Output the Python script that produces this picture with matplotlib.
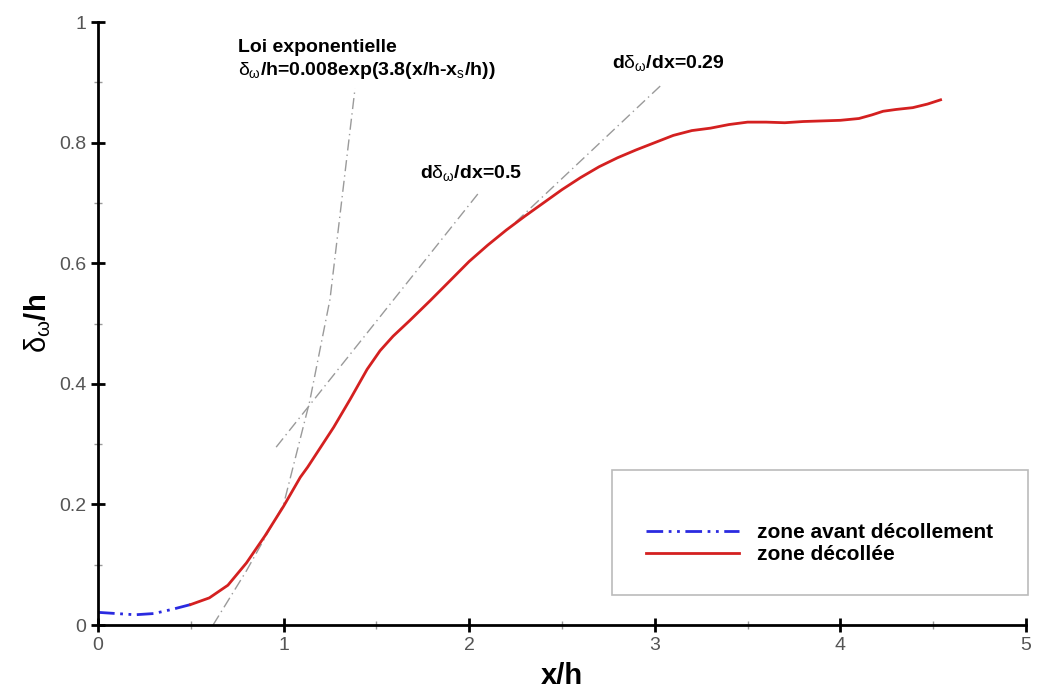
import matplotlib
matplotlib.use('Agg')
import matplotlib.pyplot as plt
from matplotlib.patches import Rectangle
from matplotlib.lines import Line2D

plt.rcParams['font.family'] = ['Liberation Sans', 'DejaVu Sans']
plt.rcParams['mathtext.fontset'] = 'custom'
plt.rcParams['mathtext.rm'] = 'Liberation Sans'
plt.rcParams['mathtext.it'] = 'Liberation Sans'

# zone avant decollement (blue)
x_avant = [0.0, 0.1, 0.2, 0.3, 0.4, 0.5]
y_avant = [0.021, 0.019, 0.017, 0.019, 0.026, 0.034]

# zone decollee (red)
x_dec = [0.5, 0.6, 0.7, 0.8, 0.9, 1.0, 1.09, 1.13, 1.2, 1.27, 1.36, 1.45, 1.52,
         1.59, 1.68, 1.79, 1.9, 2.0, 2.1, 2.2, 2.3, 2.4, 2.5, 2.6, 2.7, 2.8,
         2.9, 3.0, 3.1, 3.2, 3.3, 3.4, 3.5, 3.6, 3.7, 3.8, 3.9, 4.0, 4.1,
         4.17, 4.23, 4.3, 4.39, 4.47, 4.54]
y_dec = [0.034, 0.045, 0.066, 0.103, 0.148, 0.197, 0.245, 0.262, 0.295, 0.328,
         0.375, 0.424, 0.455, 0.479, 0.505, 0.538, 0.572, 0.603, 0.63, 0.655,
         0.678, 0.70, 0.722, 0.742, 0.76, 0.775, 0.788, 0.80, 0.812, 0.82,
         0.824, 0.83, 0.834, 0.834, 0.833, 0.835, 0.836, 0.837, 0.84, 0.846,
         0.852, 0.855, 0.858, 0.864, 0.871]

# guide lines
x_exp = [0.62, 0.8, 1.0, 1.14, 1.25, 1.385]
y_exp = [0.0, 0.09, 0.2, 0.37, 0.54, 0.89]
x_t05 = [0.96, 2.06]
y_t05 = [0.295, 0.72]
x_t029 = [2.25, 3.03]
y_t029 = [0.668, 0.894]

fig = plt.figure(figsize=(10.38, 6.95), dpi=100)
ax = fig.add_axes([0.0944, 0.1007, 0.894, 0.8676])

gray = '#9a9a9a'
dashdot = (0, (8, 3, 1, 3))
ax.plot(x_exp, y_exp, color=gray, lw=1, ls=dashdot)
ax.plot(x_t05, y_t05, color=gray, lw=1, ls=dashdot)
ax.plot(x_t029, y_t029, color=gray, lw=1, ls=dashdot)
ax.plot(x_avant, y_avant, color='#2a2ae0', lw=2, ls=(0, (6, 2, 1, 2, 1, 2)))
ax.plot(x_dec, y_dec, color='#d42020', lw=2)

ax.set_xlim(0, 5)
ax.set_ylim(0, 1)
for s in ['top', 'right']:
    ax.spines[s].set_visible(False)
for s in ['left', 'bottom']:
    ax.spines[s].set_linewidth(2)

ax.set_xticks([0, 1, 2, 3, 4, 5])
ax.set_xticklabels(['0', '1', '2', '3', '4', '5'])
ax.set_yticks([0, 0.2, 0.4, 0.6, 0.8, 1])
ax.set_yticklabels(['0', '0.2', '0.4', '0.6', '0.8', '1'])
ax.set_xticks([0.5, 1.5, 2.5, 3.5, 4.5], minor=True)
ax.set_yticks([0.1, 0.3, 0.5, 0.7, 0.9], minor=True)
ax.tick_params(which='major', direction='inout', length=10, width=2,
               labelsize=14, labelcolor='#555555')
ax.tick_params(which='minor', direction='inout', length=6, width=1, color='#999999')

ax.set_xlabel('x/h', fontsize=21, fontweight='bold', labelpad=6)
ax.set_ylabel(r'$\delta_\omega$/h', fontsize=21, fontweight='bold', labelpad=4)

ax.text(0.754, 0.957, 'Loi exponentielle', fontsize=14, fontweight='bold', va='center')
ax.text(0.754, 0.92, r'$\delta_\omega$/h=0.008exp(3.8(x/h-x$_s$/h))', fontsize=14,
        fontweight='bold', va='center')
ax.text(2.77, 0.932, r'd$\delta_\omega$/dx=0.29', fontsize=14, fontweight='bold', va='center')
ax.text(1.735, 0.75, r'd$\delta_\omega$/dx=0.5', fontsize=14, fontweight='bold', va='center')

# legend box
ax.add_patch(Rectangle((2.77, 0.05), 2.24, 0.207, transform=ax.transData,
                       fill=False, edgecolor='#bbbbbb', lw=1.2, clip_on=False))
handles = [Line2D([], [], color='#2a2ae0', lw=2, ls=(0, (6, 2, 1, 2, 1, 2))),
           Line2D([], [], color='#d42020', lw=2)]
ax.legend(handles, ['zone avant décollement', 'zone décollée'], frameon=False,
          loc='center left', bbox_to_anchor=(0.57, 0.135),
          handlelength=4.5, handletextpad=0.85, labelspacing=0.12,
          prop={'weight': 'bold', 'size': 15})

fig.savefig('out.png', dpi=100)
